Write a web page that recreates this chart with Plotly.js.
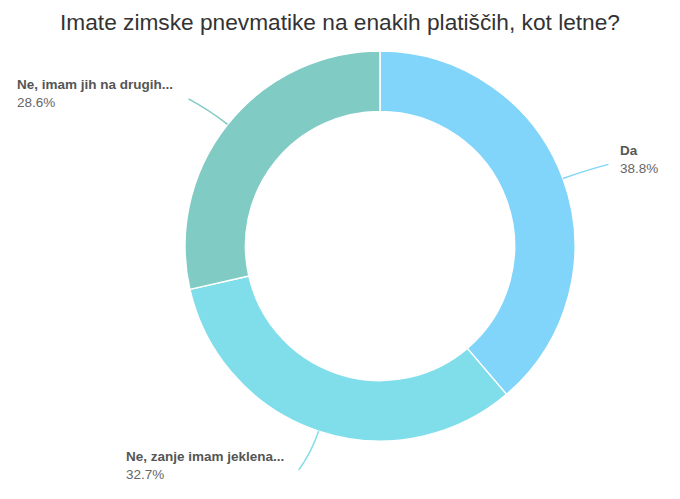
<!DOCTYPE html>
<html>
<head>
<meta charset="utf-8">
<script src="https://cdn.plot.ly/plotly-3.0.1.min.js"></script>
<style>html,body{margin:0;padding:0;background:#fff;}#chart{width:680px;height:499px;}</style>
</head>
<body>
<div id="chart"></div>
<script>
const categories = ["Da", "Ne, zanje imam jeklena...", "Ne, imam jih na drugih..."];
const percents = [38.8, 32.7, 28.6];
const colors = ["#81D4FA", "#80DEEA", "#80CBC4"];
const titleText = "Imate zimske pnevmatike na enakih platiščih, kot letne?";

const W = 680, H = 499;
const cx = 380, cy = 246, R = 195;
const holeFrac = 0.69;
const font = "Liberation Sans, Arial, sans-serif";

const px = x => x / W;
const py = y => 1 - y / H;

const total = percents.reduce((a, b) => a + b, 0);
const shapes = [];
const annotations = [];
let cum = 0;
percents.forEach((v, i) => {
  const mid = (cum + v / 2) / total * 2 * Math.PI;
  cum += v;
  const sx = Math.sin(mid), sy = -Math.cos(mid);
  const right = sx >= 0;
  const sgn = right ? 1 : -1;
  const L = 41;
  const x0 = cx + R * sx, y0 = cy + R * sy;
  const x2 = cx + (R + L) * sx + 7 * sgn, y2 = cy + (R + L) * sy;
  const qx = cx + (R + L * 0.55) * sx, qy = cy + (R + L * 0.55) * sy;
  shapes.push({
    type: "path", xref: "paper", yref: "paper",
    path: `M ${px(x0)},${py(y0)} Q ${px(qx)},${py(qy)} ${px(x2)},${py(y2)}`,
    line: { color: colors[i], width: 1.5 }
  });
  annotations.push({
    xref: "paper", yref: "paper",
    x: px(x2 + (right ? 10 : -13)), y: py(y2 - 5),
    xanchor: right ? "left" : "right", yanchor: "middle", align: "left",
    text: "<b>" + categories[i] + "</b><br><span style=\"color:#666666\">" + v.toFixed(1) + "%</span>",
    showarrow: false,
    font: { family: font, size: 13.5, color: "#555555" }
  });
});

const data = [{
  type: "pie",
  labels: categories,
  values: percents,
  hole: holeFrac,
  sort: false,
  direction: "clockwise",
  rotation: 0,
  marker: { colors: colors, line: { color: "#ffffff", width: 1.5 } },
  textinfo: "none",
  hoverinfo: "label+percent",
  showlegend: false,
  domain: { x: [px(cx - R), px(cx + R)], y: [py(cy + R), py(cy - R)] }
}];

const layout = {
  width: W, height: H,
  margin: { l: 0, r: 0, t: 0, b: 0 },
  paper_bgcolor: "#ffffff",
  title: {
    text: titleText, x: 0.5, xanchor: "center",
    y: 1 - 22 / H, yanchor: "middle", yref: "container",
    font: { family: font, size: 22.7, color: "#333333" }
  },
  shapes: shapes,
  annotations: annotations,
  showlegend: false
};

Plotly.newPlot("chart", data, layout, { displayModeBar: false, staticPlot: true });
</script>
</body>
</html>
